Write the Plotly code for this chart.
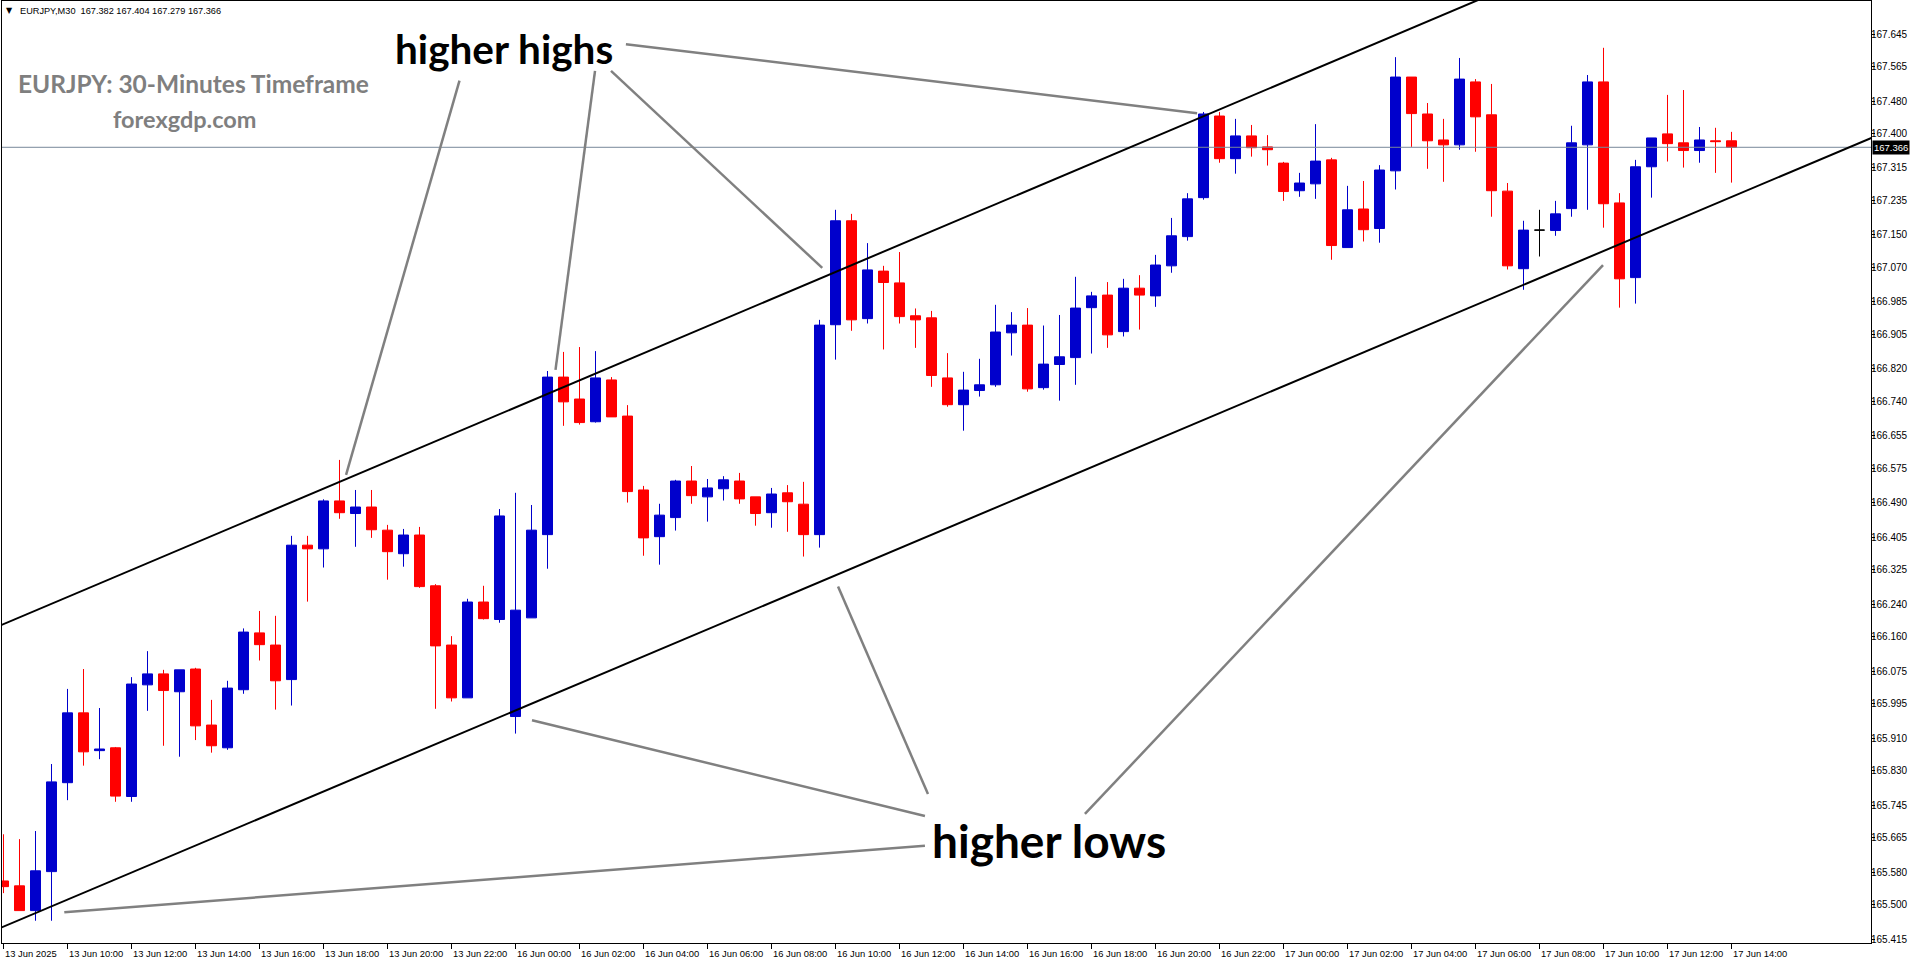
import plotly.graph_objects as go

# ---------------- data (EURJPY M30) ----------------
opens = [165.559, 165.547, 165.486, 165.582, 165.801, 165.973, 165.880, 165.887, 165.767, 166.042,
         166.069, 166.025, 166.081, 165.943, 165.887, 166.030, 166.170, 166.140, 166.055, 166.386,
         166.377, 166.495, 166.464, 166.480, 166.423, 166.365, 166.411, 166.286, 166.140, 166.010,
         166.246, 166.203, 165.964, 166.207, 166.412, 166.800, 166.746, 166.690, 166.793, 166.704,
         166.522, 166.407, 166.454, 166.544, 166.505, 166.525, 166.544, 166.505, 166.466, 166.515,
         166.487, 166.412, 166.929, 167.185, 166.944, 167.061, 167.032, 166.951, 166.946, 166.798,
         166.732, 166.767, 166.781, 166.909, 166.928, 166.774, 166.831, 166.848, 166.971, 167.002,
         166.912, 167.019, 167.000, 167.074, 167.146, 167.242, 167.443, 167.338, 167.394, 167.367,
         167.327, 167.259, 167.276, 167.335, 167.119, 167.214, 167.166, 167.308, 167.539, 167.448,
         167.384, 167.372, 167.527, 167.446, 167.258, 167.067, 167.162, 167.161, 167.215, 167.372,
         167.527, 167.229, 167.045, 167.318, 167.399, 167.377, 167.358, 167.382, 167.382]
highs = [165.674, 165.662, 165.682, 165.847, 166.032, 166.081, 165.985, 165.889, 166.061, 166.125,
         166.079, 166.079, 166.084, 166.005, 166.052, 166.181, 166.224, 166.212, 166.409, 166.409,
         166.499, 166.596, 166.522, 166.522, 166.436, 166.426, 166.431, 166.290, 166.162, 166.254,
         166.286, 166.475, 166.515, 166.485, 166.815, 166.862, 166.874, 166.864, 166.800, 166.731,
         166.532, 166.488, 166.547, 166.581, 166.549, 166.556, 166.564, 166.505, 166.527, 166.534,
         166.542, 166.941, 167.212, 167.202, 167.130, 167.074, 167.108, 166.969, 166.963, 166.859,
         166.813, 166.845, 166.978, 166.960, 166.970, 166.927, 166.953, 167.047, 167.010, 167.034,
         167.042, 167.051, 167.101, 167.192, 167.253, 167.453, 167.453, 167.436, 167.421, 167.396,
         167.330, 167.303, 167.423, 167.340, 167.271, 167.283, 167.322, 167.588, 167.539, 167.475,
         167.436, 167.586, 167.534, 167.522, 167.278, 167.185, 167.212, 167.234, 167.419, 167.544,
         167.611, 167.253, 167.335, 167.389, 167.495, 167.507, 167.416, 167.414, 167.404]
lows = [165.529, 165.486, 165.461, 165.461, 165.758, 165.843, 165.859, 165.754, 165.754, 165.978,
        165.892, 165.865, 165.906, 165.875, 165.882, 166.020, 166.102, 165.981, 165.991, 166.247,
        166.331, 166.451, 166.382, 166.404, 166.301, 166.333, 166.281, 165.983, 166.001, 166.010,
        166.203, 166.195, 165.922, 166.207, 166.328, 166.680, 166.683, 166.688, 166.702, 166.491,
        166.360, 166.338, 166.422, 166.488, 166.444, 166.496, 166.488, 166.434, 166.429, 166.419,
        166.358, 166.380, 166.843, 166.914, 166.932, 166.868, 166.932, 166.872, 166.776, 166.727,
        166.668, 166.752, 166.776, 166.853, 166.764, 166.769, 166.742, 166.781, 166.858, 166.872,
        166.900, 166.917, 166.973, 167.057, 167.136, 167.237, 167.328, 167.301, 167.343, 167.321,
        167.234, 167.244, 167.239, 167.089, 167.119, 167.134, 167.131, 167.262, 167.367, 167.313,
        167.281, 167.360, 167.355, 167.195, 167.065, 167.015, 167.097, 167.148, 167.195, 167.212,
        167.168, 166.971, 166.981, 167.242, 167.331, 167.316, 167.328, 167.303, 167.279]
closes = [165.545, 165.486, 165.584, 165.803, 165.973, 165.877, 165.884, 165.768, 166.044, 166.069,
          166.028, 166.079, 165.941, 165.892, 166.034, 166.172, 166.141, 166.052, 166.386, 166.377,
          166.495, 166.466, 166.480, 166.424, 166.370, 166.411, 166.284, 166.138, 166.010, 166.246,
          166.205, 166.458, 166.226, 166.423, 166.800, 166.739, 166.688, 166.798, 166.702, 166.518,
          166.404, 166.460, 166.544, 166.508, 166.527, 166.547, 166.500, 166.464, 166.512, 166.493,
          166.412, 166.928, 167.185, 166.941, 167.064, 167.033, 166.949, 166.941, 166.804, 166.732,
          166.768, 166.781, 166.911, 166.928, 166.771, 166.832, 166.850, 166.970, 167.000, 166.904,
          167.019, 167.002, 167.076, 167.148, 167.239, 167.448, 167.338, 167.394, 167.365, 167.360,
          167.257, 167.278, 167.332, 167.124, 167.212, 167.163, 167.310, 167.539, 167.449, 167.382,
          167.372, 167.534, 167.441, 167.259, 167.074, 167.162, 167.162, 167.202, 167.377, 167.527,
          167.227, 167.042, 167.318, 167.389, 167.375, 167.358, 167.384, 167.380, 167.366]

time_tick_labels = ["13 Jun 2025", "13 Jun 10:00", "13 Jun 12:00", "13 Jun 14:00", "13 Jun 16:00",
                    "13 Jun 18:00", "13 Jun 20:00", "13 Jun 22:00", "16 Jun 00:00", "16 Jun 02:00",
                    "16 Jun 04:00", "16 Jun 06:00", "16 Jun 08:00", "16 Jun 10:00", "16 Jun 12:00",
                    "16 Jun 14:00", "16 Jun 16:00", "16 Jun 18:00", "16 Jun 20:00", "16 Jun 22:00",
                    "17 Jun 00:00", "17 Jun 02:00", "17 Jun 04:00", "17 Jun 06:00", "17 Jun 08:00",
                    "17 Jun 10:00", "17 Jun 12:00", "17 Jun 14:00"]
bars_per_tick = 4

price_ticks = [167.645, 167.565, 167.480, 167.400, 167.315, 167.235, 167.150, 167.070, 166.985,
               166.905, 166.820, 166.740, 166.655, 166.575, 166.490, 166.405, 166.325, 166.240,
               166.160, 166.075, 165.995, 165.910, 165.830, 165.745, 165.665, 165.580, 165.500,
               165.415]

# trend-channel anchors (bar index, price)
upper_channel_x = [-1, 95]
upper_channel_y = [166.175, 167.776]
lower_channel_x = [-1, 118]
lower_channel_y = [165.430, 167.410]

# pointer lines (bar index, price) pairs
highs_pointers = [
    ([28.5, 21.41], [167.530, 166.559]),
    ([36.97, 34.5], [167.554, 166.818]),
    ([37.97, 51.17], [167.554, 167.069]),
    ([38.9, 74.6], [167.620, 167.450]),
]
lows_pointers = [
    ([57.59, 33.03], [165.719, 165.955]),
    ([57.78, 52.16], [165.773, 166.284]),
    ([67.59, 99.97], [165.724, 167.076]),
    ([57.59, 3.8], [165.646, 165.482]),
]

symbol = "EURJPY,M30"
last_price = closes[-1]

# ---------------- figure ----------------
W, H = 1916, 964
ML, MR, MT, MB = 2, 45, 1, 21
PW, PH = W - ML - MR, H - MT - MB
X_RANGE = [-0.094, -0.094 + PW / 16.0]
Y_RANGE = [165.4062, 167.7263]

UP = "#0000CC"
DN = "#FF0000"

n = len(opens)
groups = {
    UP: [i for i in range(n) if closes[i] > opens[i]],
    DN: [i for i in range(n) if closes[i] < opens[i]],
    "#000000": [i for i in range(n) if closes[i] == opens[i]],
}

fig = go.Figure()
for color, idx in groups.items():
    fig.add_trace(go.Candlestick(
        x=idx,
        open=[opens[i] for i in idx], high=[highs[i] for i in idx],
        low=[lows[i] for i in idx], close=[closes[i] for i in idx],
        increasing=dict(line=dict(color=color, width=1), fillcolor=color),
        decreasing=dict(line=dict(color=color, width=1), fillcolor=color),
        whiskerwidth=0, showlegend=False, hoverinfo="skip",
    ))

# current price line
fig.add_trace(go.Scatter(x=[X_RANGE[0], X_RANGE[1]], y=[last_price, last_price], mode="lines",
                         line=dict(color="#778899", width=1), showlegend=False, hoverinfo="skip"))

# channel lines
for xs, ys in [(upper_channel_x, upper_channel_y), (lower_channel_x, lower_channel_y)]:
    fig.add_trace(go.Scatter(x=xs, y=ys, mode="lines", line=dict(color="#000000", width=2),
                             showlegend=False, hoverinfo="skip"))

# pointer lines
for xs, ys in highs_pointers + lows_pointers:
    fig.add_trace(go.Scatter(x=xs, y=ys, mode="lines", line=dict(color="#808080", width=2.5),
                             showlegend=False, hoverinfo="skip"))


def px_x(px):
    return (px - ML) / PW


def px_y(py):
    return (H - MB - py) / PH


ann = []
# header
ann.append(dict(text="▼", x=px_x(4), y=px_y(11), xref="paper", yref="paper",
                xanchor="left", yanchor="middle", showarrow=False,
                font=dict(family="DejaVu Sans", size=8, color="#000000")))
ann.append(dict(text=symbol + "  " +
                " ".join(f"{v:.3f}" for v in [opens[-1], highs[-1], lows[-1], closes[-1]]),
                x=px_x(18), y=px_y(11), xref="paper", yref="paper", xanchor="left", yanchor="middle",
                showarrow=False, font=dict(family="Liberation Sans", size=9.2, color="#000000")))
ann.append(dict(text="<b>EURJPY: 30-Minutes Timeframe</b>", x=px_x(16), y=px_y(84),
                xref="paper", yref="paper", xanchor="left", yanchor="middle", showarrow=False,
                font=dict(family="Lato", size=24.5, color="#7f7f7f")))
ann.append(dict(text="<b>forexgdp.com</b>", x=px_x(184), y=px_y(119),
                xref="paper", yref="paper", xanchor="center", yanchor="middle", showarrow=False,
                font=dict(family="Lato", size=23.5, color="#7f7f7f")))
ann.append(dict(text="<b>higher highs</b>", x=px_x(393), y=px_y(49),
                xref="paper", yref="paper", xanchor="left", yanchor="middle", showarrow=False,
                font=dict(family="Lato", size=40.5, color="#000000")))
ann.append(dict(text="<b>higher lows</b>", x=px_x(930), y=px_y(840),
                xref="paper", yref="paper", xanchor="left", yanchor="middle", showarrow=False,
                font=dict(family="Lato", size=46, color="#000000")))
# price label
ann.append(dict(text=f"{last_price:.3f}", x=1, y=last_price, xref="paper", yref="y",
                xanchor="left", yanchor="middle", showarrow=False, bgcolor="#000000",
                borderpad=1, xshift=1,
                font=dict(family="Liberation Sans", size=9.5, color="#FFFFFF")))
# time axis labels (left aligned to tick marks)
tick_pos = [k * bars_per_tick for k in range(len(time_tick_labels))]
for pos, lab in zip(tick_pos, time_tick_labels):
    ann.append(dict(text=lab, x=pos, y=0, xref="x", yref="paper", xanchor="left", yanchor="top",
                    xshift=-1, yshift=-3, showarrow=False,
                    font=dict(family="Liberation Sans", size=9.4, color="#000000")))

fig.update_layout(
    width=W, height=H,
    margin=dict(l=ML, r=MR, t=MT, b=MB, pad=0),
    paper_bgcolor="#FFFFFF", plot_bgcolor="#FFFFFF",
    boxgap=0.375, boxgroupgap=0,
    showlegend=False,
    annotations=ann,
    hovermode=False,
    xaxis=dict(range=X_RANGE, showgrid=False, zeroline=False, rangeslider=dict(visible=False),
               tickvals=tick_pos, showticklabels=False, ticks="outside", ticklen=5,
               tickcolor="#000000", tickwidth=1,
               showline=True, linecolor="#000000", linewidth=1, mirror=True, fixedrange=True),
    yaxis=dict(range=Y_RANGE, side="right", showgrid=False, zeroline=False,
               tickvals=price_ticks, ticktext=[f"{v:.3f}" for v in price_ticks],
               ticks="outside", ticklen=3, tickcolor="#000000", tickwidth=1,
               ticklabelstandoff=-6,
               tickfont=dict(family="Liberation Sans", size=10, color="#000000"),
               showline=True, linecolor="#000000", linewidth=1, mirror=True, fixedrange=True),
)

fig.write_html("out.html", config={"displayModeBar": False},
               post_script="document.body.style.margin='0';document.body.style.overflow='hidden';")
